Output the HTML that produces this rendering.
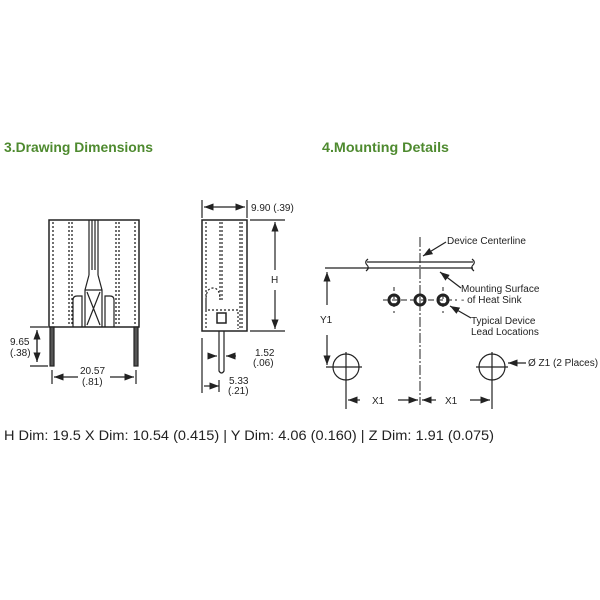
<!DOCTYPE html>
<html><head><style>
body{margin:0;background:#fff;width:600px;height:600px;overflow:hidden}
svg{position:absolute;left:0;top:0}
</style></head><body>
<svg width="600" height="600" viewBox="0 0 600 600" xmlns="http://www.w3.org/2000/svg" font-family="Liberation Sans, sans-serif">
<defs><marker id="a" markerWidth="8" markerHeight="6" refX="8" refY="3" orient="auto"><path d="M0,0 L8,3 L0,6z" fill="#222"/></marker></defs>
<text x="4" y="152" font-size="13.5" font-weight="bold" fill="#4e8a2f" textLength="149" lengthAdjust="spacingAndGlyphs">3.Drawing Dimensions</text>
<text x="322" y="152" font-size="13.5" font-weight="bold" fill="#4e8a2f" textLength="127" lengthAdjust="spacingAndGlyphs">4.Mounting Details</text>
<g stroke="#222" fill="none" stroke-width="1.2">
<rect x="49" y="220" width="90" height="107" stroke-width="1.5"/>
<g stroke-dasharray="2,2" stroke-width="1.3">
<line x1="53" y1="222" x2="53" y2="325"/><line x1="69" y1="222" x2="69" y2="325"/><line x1="72" y1="222" x2="72" y2="325"/>
<line x1="116" y1="222" x2="116" y2="325"/><line x1="119" y1="222" x2="119" y2="325"/><line x1="135" y1="222" x2="135" y2="325"/>
</g>
<path d="M89,220 V275 M98,220 V275 M92,220 V270 M95,220 V270 M89,275 L85,290 V327 M98,275 L102,290 V327 M85,290 H102 M87,292 L100,325 M100,292 L87,325"/>
<path d="M73,327 V300 Q73,296 77,296 H82 V327 M114,327 V300 Q114,296 110,296 H105 V327"/>
<rect x="50" y="327" width="4" height="39" fill="#555"/><rect x="134" y="327" width="4" height="39" fill="#555"/>
<line x1="30" y1="327" x2="48" y2="327"/><line x1="30" y1="366" x2="48" y2="366"/>
<line x1="37" y1="331" x2="37" y2="362" marker-end="url(#a)"/><line x1="37" y1="362" x2="37" y2="330" marker-end="url(#a)"/>
<line x1="52" y1="370" x2="52" y2="384"/><line x1="136" y1="370" x2="136" y2="384"/>
<line x1="78" y1="377" x2="54" y2="377" marker-end="url(#a)"/><line x1="110" y1="377" x2="134" y2="377" marker-end="url(#a)"/>
<rect x="202" y="220" width="45" height="111" stroke-width="1.5"/>
<g stroke-dasharray="2,2" stroke-width="1.2">
<line x1="206" y1="222" x2="206" y2="329"/><line x1="220" y1="222" x2="220" y2="300"/><line x1="222" y1="222" x2="222" y2="300"/>
<line x1="240" y1="222" x2="240" y2="329"/><line x1="242" y1="222" x2="242" y2="329"/>
<path d="M206,310 V300 Q206,288 213,288 Q220,288 220,300 M208,310 H238 V329"/>
</g>
<rect x="217" y="313" width="9" height="10" stroke-width="1.5"/>
<path d="M219,331 V371 Q221.5,375 224,371 V331"/>
<line x1="202" y1="200" x2="202" y2="218"/><line x1="247" y1="200" x2="247" y2="218"/>
<line x1="215" y1="207" x2="204" y2="207" marker-end="url(#a)"/><line x1="235" y1="207" x2="245" y2="207" marker-end="url(#a)"/><line x1="215" y1="207" x2="235" y2="207"/>
<line x1="250" y1="220" x2="285" y2="220"/><line x1="250" y1="331" x2="285" y2="331"/>
<line x1="275" y1="270" x2="275" y2="222" marker-end="url(#a)"/><line x1="275" y1="290" x2="275" y2="329" marker-end="url(#a)"/>
<line x1="202" y1="338" x2="202" y2="393"/>
<line x1="208" y1="356" x2="217" y2="356" marker-end="url(#a)"/><line x1="236" y1="356" x2="226" y2="356" marker-end="url(#a)"/>
<line x1="204" y1="386" x2="219" y2="386" marker-end="url(#a)"/><line x1="219" y1="380" x2="219" y2="392"/>
<line x1="325" y1="268" x2="368" y2="268"/>
<line x1="367" y1="262" x2="473" y2="262"/><line x1="367" y1="268" x2="473" y2="268"/>
<path d="M368,259 Q364,262 367,265 Q370,268 366,271 M472,259 Q476,262 473,265 Q470,268 474,271"/>
<line x1="420" y1="237" x2="420" y2="405" stroke-dasharray="10,2,2,2" stroke-width="1"/>
<line x1="383" y1="300" x2="457" y2="300" stroke-dasharray="6,3" stroke-width="1"/>
<line x1="394" y1="287" x2="394" y2="313" stroke-dasharray="4,4" stroke-width="1"/>
<line x1="443" y1="287" x2="443" y2="313" stroke-dasharray="4,4" stroke-width="1"/>
<circle cx="394" cy="300" r="5" stroke-width="3"/><circle cx="420" cy="300" r="5" stroke-width="3"/><circle cx="443" cy="300" r="5" stroke-width="3"/>
<circle cx="346" cy="367" r="13"/><circle cx="492" cy="367" r="13"/>
<path d="M326,367 H362 M346,352 V409 M476,367 H508 M492,352 V409"/>
<line x1="327" y1="305" x2="327" y2="272" marker-end="url(#a)"/><line x1="327" y1="335" x2="327" y2="365" marker-end="url(#a)"/>
<line x1="360" y1="400" x2="348" y2="400" marker-end="url(#a)"/><line x1="398" y1="400" x2="418" y2="400" marker-end="url(#a)"/>
<line x1="436" y1="400" x2="422" y2="400" marker-end="url(#a)"/><line x1="470" y1="400" x2="490" y2="400" marker-end="url(#a)"/>
<line x1="446" y1="242" x2="423" y2="256" marker-end="url(#a)"/>
<line x1="461" y1="288" x2="440" y2="272" marker-end="url(#a)"/>
<line x1="471" y1="318" x2="450" y2="306" marker-end="url(#a)"/>
<line x1="526" y1="363" x2="508" y2="363" marker-end="url(#a)"/>
</g>
<g font-size="10" fill="#222">
<text x="10" y="345">9.65</text><text x="10" y="356">(.38)</text>
<text x="80" y="374">20.57</text><text x="82" y="385">(.81)</text>
<text x="251" y="211">9.90 (.39)</text>
<text x="271" y="283">H</text>
<text x="255" y="356">1.52</text><text x="253" y="366">(.06)</text>
<text x="229" y="384">5.33</text><text x="228" y="394">(.21)</text>
<text x="447" y="244">Device Centerline</text>
<text x="461" y="292">Mounting Surface</text><text x="461" y="303">- of Heat Sink</text>
<text x="471" y="324">Typical Device</text><text x="471" y="335">Lead Locations</text>
<text x="320" y="323">Y1</text>
<text x="528" y="366">Ø Z1 (2 Places)</text>
<text x="372" y="404">X1</text><text x="445" y="404">X1</text>
</g>
<text x="4" y="440" font-size="13.5" fill="#222" textLength="490" lengthAdjust="spacingAndGlyphs">H Dim: 19.5 X Dim: 10.54 (0.415) | Y Dim: 4.06 (0.160) | Z Dim: 1.91 (0.075)</text>
</svg>
</body></html>
